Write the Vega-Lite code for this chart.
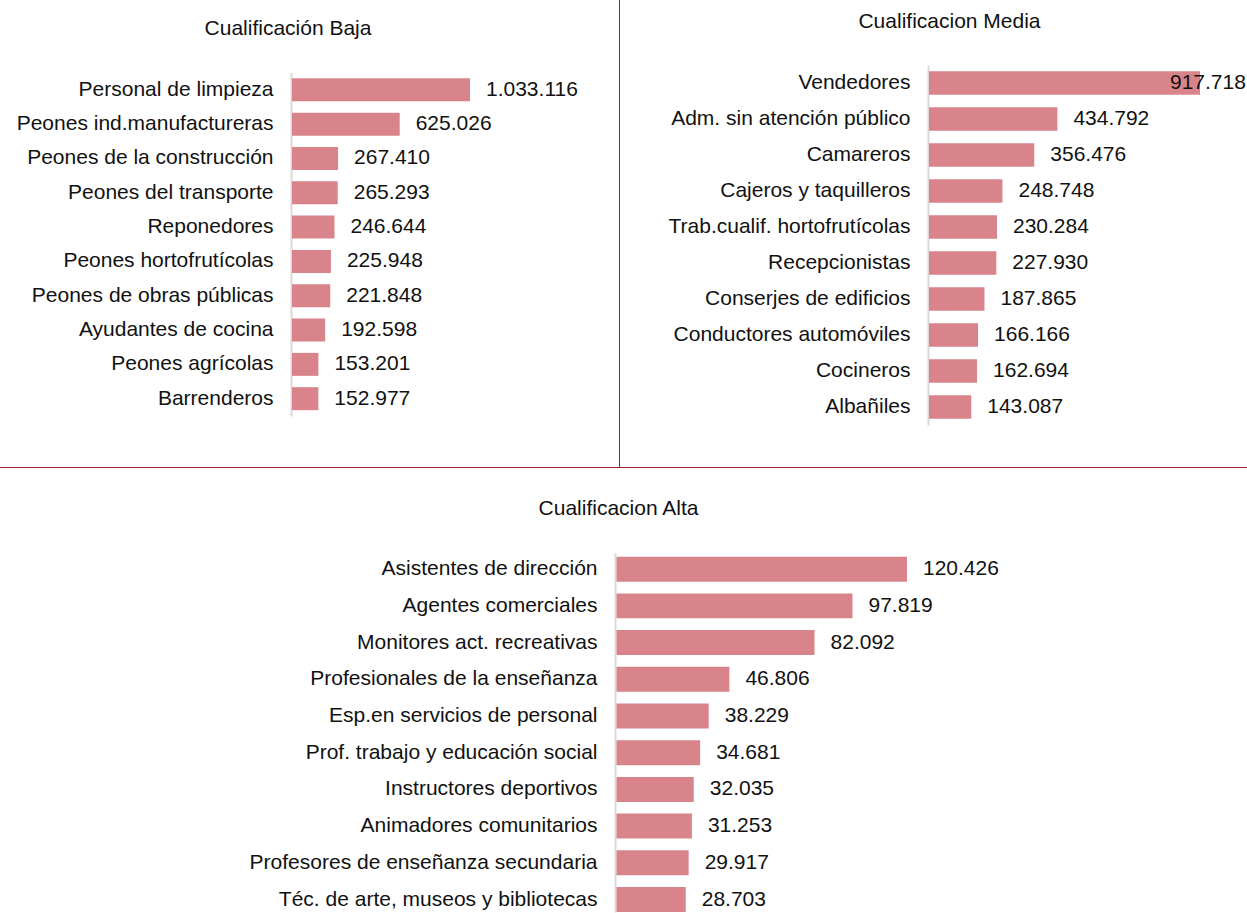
{
  "$schema": "https://vega.github.io/schema/vega-lite/v6.json",
  "background": "#9c1b2e",
  "padding": 0,
  "autosize": {"type": "pad"},
  "data": {
    "values": [
      {"nivel": "Baja", "ocupacion": "Personal de limpieza", "valor": 1033116},
      {"nivel": "Baja", "ocupacion": "Peones ind.manufactureras", "valor": 625026},
      {"nivel": "Baja", "ocupacion": "Peones de la construcción", "valor": 267410},
      {"nivel": "Baja", "ocupacion": "Peones del transporte", "valor": 265293},
      {"nivel": "Baja", "ocupacion": "Reponedores", "valor": 246644},
      {"nivel": "Baja", "ocupacion": "Peones hortofrutícolas", "valor": 225948},
      {"nivel": "Baja", "ocupacion": "Peones de obras públicas", "valor": 221848},
      {"nivel": "Baja", "ocupacion": "Ayudantes de cocina", "valor": 192598},
      {"nivel": "Baja", "ocupacion": "Peones agrícolas", "valor": 153201},
      {"nivel": "Baja", "ocupacion": "Barrenderos", "valor": 152977},
      {"nivel": "Media", "ocupacion": "Vendedores", "valor": 917718},
      {"nivel": "Media", "ocupacion": "Adm. sin atención público", "valor": 434792},
      {"nivel": "Media", "ocupacion": "Camareros", "valor": 356476},
      {"nivel": "Media", "ocupacion": "Cajeros y taquilleros", "valor": 248748},
      {"nivel": "Media", "ocupacion": "Trab.cualif. hortofrutícolas", "valor": 230284},
      {"nivel": "Media", "ocupacion": "Recepcionistas", "valor": 227930},
      {"nivel": "Media", "ocupacion": "Conserjes de edificios", "valor": 187865},
      {"nivel": "Media", "ocupacion": "Conductores automóviles", "valor": 166166},
      {"nivel": "Media", "ocupacion": "Cocineros", "valor": 162694},
      {"nivel": "Media", "ocupacion": "Albañiles", "valor": 143087},
      {"nivel": "Alta", "ocupacion": "Asistentes de dirección", "valor": 120426},
      {"nivel": "Alta", "ocupacion": "Agentes comerciales", "valor": 97819},
      {"nivel": "Alta", "ocupacion": "Monitores act. recreativas", "valor": 82092},
      {"nivel": "Alta", "ocupacion": "Profesionales de la enseñanza", "valor": 46806},
      {"nivel": "Alta", "ocupacion": "Esp.en servicios de personal", "valor": 38229},
      {"nivel": "Alta", "ocupacion": "Prof. trabajo y educación social", "valor": 34681},
      {"nivel": "Alta", "ocupacion": "Instructores deportivos", "valor": 32035},
      {"nivel": "Alta", "ocupacion": "Animadores comunitarios", "valor": 31253},
      {"nivel": "Alta", "ocupacion": "Profesores de enseñanza secundaria", "valor": 29917},
      {"nivel": "Alta", "ocupacion": "Téc. de arte, museos y bibliotecas", "valor": 28703}
    ]
  },
  "spacing": 1,
  "vconcat": [
    {
      "spacing": 1,
      "hconcat": [
        {
          "width": 619,
          "height": 467,
          "title": {"text": "Cualificación Baja", "offset": -50, "dx": -21.5, "baseline": "middle", "frame": "group", "anchor": "middle"},
          "transform": [{"filter": "datum.nivel === 'Baja'"}],
          "encoding": {
            "y": {"field": "ocupacion", "type": "nominal", "sort": null,
                  "scale": {"range": [72.5, 416], "paddingInner": 0.33, "paddingOuter": 0.17},
                  "axis": {"offset": -291, "title": null}},
            "x": {"field": "valor", "type": "quantitative",
                  "scale": {"range": [292, 470], "nice": false, "zero": true}, "axis": null}
          },
          "layer": [
            {"mark": {"type": "bar", "color": "#d9848b"}},
            {"mark": {"type": "text", "align": "left", "baseline": "middle", "dx": 16, "fontSize": 21, "color": "#111111"},
             "encoding": {"text": {"field": "valor", "type": "quantitative", "format": ",d"}}}
          ]
        },
        {
          "width": 627,
          "height": 467,
          "title": {"text": "Cualificacion Media", "offset": -43, "dx": 16, "baseline": "middle", "frame": "group", "anchor": "middle"},
          "transform": [{"filter": "datum.nivel === 'Media'"}],
          "encoding": {
            "y": {"field": "ocupacion", "type": "nominal", "sort": null,
                  "scale": {"range": [65, 425], "paddingInner": 0.35, "paddingOuter": 0.175},
                  "axis": {"offset": -308, "title": null}},
            "x": {"field": "valor", "type": "quantitative",
                  "scale": {"range": [309, 580], "nice": false, "zero": true}, "axis": null}
          },
          "layer": [
            {"mark": {"type": "bar", "color": "#d9848b"}},
            {"transform": [{"filter": "datum.ocupacion !== 'Vendedores'"}],
             "mark": {"type": "text", "align": "left", "baseline": "middle", "dx": 16, "fontSize": 21, "color": "#111111"},
             "encoding": {"text": {"field": "valor", "type": "quantitative", "format": ",d"}}},
            {"transform": [{"filter": "datum.ocupacion === 'Vendedores'"}],
             "mark": {"type": "text", "align": "left", "baseline": "middle", "dx": -30, "fontSize": 21, "color": "#111111"},
             "encoding": {"text": {"field": "valor", "type": "quantitative", "format": ",d"}}}
          ]
        }
      ]
    },
    {
      "width": 1247,
      "height": 445,
      "title": {"text": "Cualificacion Alta", "offset": -62, "dx": -5, "baseline": "middle", "frame": "group", "anchor": "middle"},
      "transform": [{"filter": "datum.nivel === 'Alta'"}],
      "encoding": {
        "y": {"field": "ocupacion", "type": "nominal", "sort": null,
              "scale": {"range": [85, 444], "paddingInner": 0.32, "paddingOuter": 0.05, "align": 1},
              "axis": {"offset": -615, "title": null}},
        "x": {"field": "valor", "type": "quantitative",
              "scale": {"range": [616.5, 907], "nice": false, "zero": true}, "axis": null}
      },
      "layer": [
        {"mark": {"type": "bar", "color": "#d9848b"}},
        {"mark": {"type": "text", "align": "left", "baseline": "middle", "dx": 16, "fontSize": 21, "color": "#111111"},
         "encoding": {"text": {"field": "valor", "type": "quantitative", "format": ",d"}}}
      ]
    }
  ],
  "config": {
    "font": "Liberation Sans",
    "view": {"fill": "white", "stroke": null},
    "locale": {"number": {"decimal": ",", "thousands": ".", "grouping": [3], "currency": ["", " €"]}},
    "axis": {
      "labelFont": "Liberation Sans",
      "labelFontSize": 21,
      "labelColor": "#111111",
      "ticks": false,
      "tickSize": 0,
      "labelPadding": 18,
      "domainColor": "#d9d9d9",
      "domainWidth": 2,
      "labelLimit": 500,
      "grid": false
    },
    "title": {"font": "Liberation Sans", "fontSize": 21, "fontWeight": "normal", "color": "#111111"},
    "text": {"font": "Liberation Sans"}
  }
}
